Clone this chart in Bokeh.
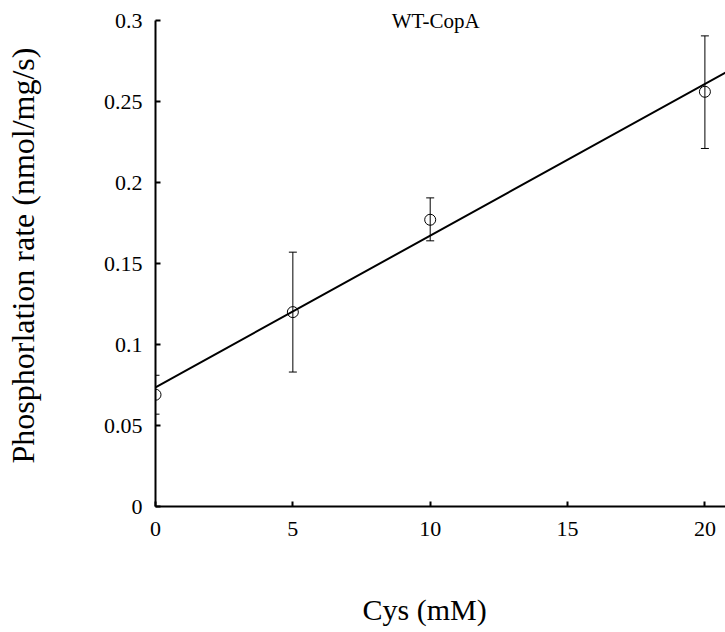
import numpy as np
from bokeh.plotting import figure
from bokeh.models import ColumnDataSource, Range1d, FixedTicker, Whisker, TeeHead, Label, Title
from bokeh.embed import file_html
from bokeh.resources import INLINE

# ---- data ----
cys_mM = [0, 5, 10, 20]
rate = [0.069, 0.120, 0.177, 0.256]
err_low = [0.057, 0.083, 0.164, 0.221]
err_high = [0.081, 0.157, 0.1905, 0.2905]
x_ticks = [0, 5, 10, 15, 20]
y_ticks = [0, 0.05, 0.1, 0.15, 0.2, 0.25, 0.3]
y_tick_labels = ["0", "0.05", "0.1", "0.15", "0.2", "0.25", "0.3"]
title_text = "WT-CopA"
x_label = "Cys (mM)"
y_label = "Phosphorlation rate (nmol/mg/s)"

FONT = "Liberation Serif"
Y_TOP = 0.3
FRAME_H = 502           # frame height incl. headroom above 0.3
AXIS_H = 486            # pixel height of 0..0.3
y_end = Y_TOP * FRAME_H / AXIS_H

p = figure(width=725, height=632, output_backend="svg", toolbar_location=None,
           x_range=Range1d(0, 20.75), y_range=Range1d(0, y_end),
           min_border_left=155, min_border_right=0, min_border_top=4,
           min_border_bottom=126)
p.outline_line_color = None
p.grid.visible = False
p.background_fill_color = "white"
p.border_fill_color = "white"

for ax in (p.xaxis[0], p.yaxis[0]):
    ax.axis_line_width = 2
    ax.axis_line_color = "black"
    ax.major_tick_line_width = 2
    ax.major_tick_line_color = "black"
    ax.major_tick_in = 5
    ax.major_tick_out = 0
    ax.minor_tick_line_color = None
    ax.major_label_text_font = FONT
    ax.major_label_text_font_size = "22px"
    ax.major_label_text_color = "black"
    ax.axis_label_text_font = FONT
    ax.axis_label_text_font_style = "normal"
    ax.axis_label_text_color = "black"

p.yaxis.bounds = (0, Y_TOP)
p.xaxis.ticker = FixedTicker(ticks=x_ticks)
p.yaxis.ticker = FixedTicker(ticks=y_ticks)
p.yaxis.major_label_overrides = {t: l for t, l in zip(y_ticks, y_tick_labels)}
p.xaxis.major_label_standoff = 15
p.yaxis.major_label_standoff = 13
p.yaxis.axis_label = y_label
p.yaxis.axis_label_text_font_size = "32px"
p.yaxis.axis_label_standoff = 60

# regression line computed from the data
slope, intercept = np.polyfit(cys_mM, rate, 1)
fit_x = [0, 21]
fit_y = [intercept + slope * xx for xx in fit_x]
p.line(fit_x, fit_y, line_color="black", line_width=2)

src = ColumnDataSource(dict(x=cys_mM, y=rate, lo=err_low, hi=err_high))
wh = Whisker(source=src, base="x", lower="lo", upper="hi",
             line_color="black", line_width=1,
             upper_head=TeeHead(size=8, line_color="black", line_width=1),
             lower_head=TeeHead(size=8, line_color="black", line_width=1))
p.add_layout(wh)
p.scatter("x", "y", source=src, size=11, marker="circle", fill_color=None,
          line_color="black", line_width=1)

p.add_layout(Label(x=10.2, y=Y_TOP, text=title_text, text_align="center",
                   text_baseline="middle", text_font=FONT,
                   text_font_size="21px", text_color="black"))

# spacer panel between the x axis and its title
p.add_layout(Title(text=" ", standoff=12, text_font=FONT,
                   text_font_size="30px"), "below")
# x-axis title (off-centre as in the reference) as a panel below the axis
p.add_layout(Title(text=x_label, align="left", offset=207, standoff=10,
                   vertical_align="bottom",
                   text_font=FONT, text_font_size="30px",
                   text_font_style="normal", text_color="black"), "below")

open("out.html", "w").write(file_html(p, INLINE))
